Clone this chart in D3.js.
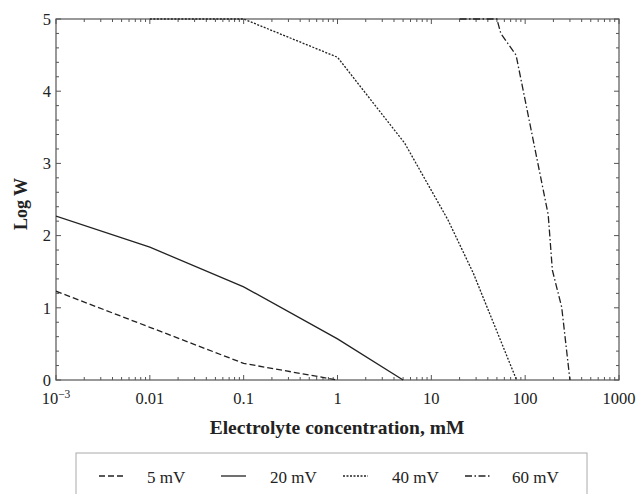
<!DOCTYPE html>
<html>
<head>
<meta charset="utf-8">
<script src="https://cdn.jsdelivr.net/npm/d3@7"></script>
<style>
  html, body { margin: 0; padding: 0; background: #fff; }
  svg { display: block; }
</style>
</head>
<body>
<svg id="chart" width="639" height="494"></svg>
<script>
// ---- data ----
const seriesNames = ["5 mV", "20 mV", "40 mV", "60 mV"];
const conc5  = [0.001, 0.01, 0.1, 1];
const logW5  = [1.23, 0.73, 0.23, 0];
const conc20 = [0.001, 0.01, 0.1, 1, 5];
const logW20 = [2.27, 1.84, 1.29, 0.57, 0];
const conc40 = [0.01, 0.1, 1, 5.2, 15, 28, 81];
const logW40 = [5, 5, 4.47, 3.28, 2.22, 1.48, 0];
const conc60 = [20, 50, 55, 80, 176, 195, 245, 300];
const logW60 = [5, 5, 4.8, 4.5, 2.29, 1.52, 1.01, 0];
const xTickValues = [0.001, 0.01, 0.1, 1, 10, 100, 1000];
const xTickLabels = ["10^-3", "0.01", "0.1", "1", "10", "100", "1000"];
const yTickValues = [0, 1, 2, 3, 4, 5];

const concs = [conc5, conc20, conc40, conc60];
const logWs = [logW5, logW20, logW40, logW60];
const dashes = ["6,3", null, "2,1.5", "7,2.5,1.5,2.5"];

// ---- layout ----
const svg = d3.select("#chart");
const FONT = "'Liberation Serif'";
const L = 56, R = 619, T = 19, B = 380;
const x = d3.scaleLog().domain([0.001, 1000]).range([L, R]);
const y = d3.scaleLinear().domain([0, 5]).range([B, T]);
const axisColor = "#555";
const textColor = "#222";

function txt(sel) { return sel.style("font-family", FONT).attr("fill", textColor); }

// minor ticks
const minorX = [];
for (let e = -3; e < 3; e++) for (let m = 2; m <= 9; m++) minorX.push(m * Math.pow(10, e));
const minorY = d3.range(0, 5.001, 0.2).filter(v => Math.abs(v - Math.round(v)) > 1e-6);

const g = svg.append("g");
function tickLines(vals, isX, len, side) {
  vals.forEach(v => {
    if (isX) {
      const px = x(v);
      g.append("line").attr("x1", px).attr("x2", px)
        .attr("y1", side === "b" ? B : T).attr("y2", side === "b" ? B - len : T + len)
        .attr("stroke", axisColor).attr("stroke-width", 1);
    } else {
      const py = y(v);
      g.append("line").attr("y1", py).attr("y2", py)
        .attr("x1", side === "l" ? L : R).attr("x2", side === "l" ? L + len : R - len)
        .attr("stroke", axisColor).attr("stroke-width", 1);
    }
  });
}
tickLines(xTickValues, true, 5, "b"); tickLines(xTickValues, true, 5, "t");
tickLines(minorX, true, 3, "b"); tickLines(minorX, true, 3, "t");
tickLines(yTickValues, false, 5, "l"); tickLines(yTickValues, false, 5, "r");
tickLines(minorY, false, 3, "l"); tickLines(minorY, false, 3, "r");

// frame
g.append("rect").attr("x", L).attr("y", T).attr("width", R - L).attr("height", B - T)
  .attr("fill", "none").attr("stroke", axisColor).attr("stroke-width", 1.2);

// tick labels
xTickValues.forEach((v, i) => {
  const t = txt(svg.append("text")).attr("x", x(v)).attr("y", 404)
    .attr("text-anchor", "middle").attr("font-size", 16.5);
  const lab = xTickLabels[i];
  if (lab.startsWith("10^")) {
    t.append("tspan").text("10");
    t.append("tspan").attr("dy", -6).attr("font-size", 11.5).text("\u2212" + lab.slice(4));
  } else t.text(lab);
});
yTickValues.forEach(v => {
  txt(svg.append("text")).attr("x", 51).attr("y", y(v)).attr("dy", "0.35em")
    .attr("text-anchor", "end").attr("font-size", 16.5).text(v);
});

// axis titles
txt(svg.append("text")).attr("x", 337).attr("y", 434).attr("text-anchor", "middle")
  .attr("font-size", 19.5).attr("font-weight", "bold").text("Electrolyte concentration, mM");
txt(svg.append("text")).attr("transform", "translate(27,204) rotate(-90)")
  .attr("text-anchor", "middle").attr("font-size", 18).attr("font-weight", "bold").text("Log W");

// lines
const line = d3.line().x(d => x(d[0])).y(d => y(d[1]));
svg.append("clipPath").attr("id", "clip").append("rect")
  .attr("x", L).attr("y", T - 1).attr("width", R - L).attr("height", B - T + 2);
seriesNames.forEach((name, i) => {
  const pts = concs[i].map((c, j) => [c, logWs[i][j]]);
  svg.append("path").datum(pts).attr("d", line).attr("fill", "none")
    .attr("stroke", "#222").attr("stroke-width", 1.3)
    .attr("stroke-dasharray", dashes[i]).attr("clip-path", "url(#clip)");
});

// legend
svg.append("rect").attr("x", 76).attr("y", 453).attr("width", 511).attr("height", 60)
  .attr("fill", "none").attr("stroke", "#aaa").attr("stroke-width", 1);
const legSampleX = [99, 221, 343, 465];
const legTextX = [147, 270, 392, 512];
seriesNames.forEach((name, i) => {
  svg.append("line").attr("x1", legSampleX[i]).attr("x2", legSampleX[i] + 25)
    .attr("y1", 476).attr("y2", 476).attr("stroke", "#222").attr("stroke-width", 1.3)
    .attr("stroke-dasharray", dashes[i]);
  txt(svg.append("text")).attr("x", legTextX[i]).attr("y", 483).attr("font-size", 17).text(name);
});
</script>
</body>
</html>
